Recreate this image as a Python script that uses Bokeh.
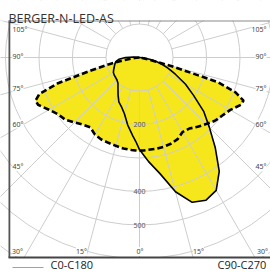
import numpy as np
from bokeh.plotting import figure
from bokeh.models import Range1d
from bokeh.core.properties import value
from bokeh.embed import file_html
from bokeh.resources import INLINE

# ---------------- data ----------------
title_text = "BERGER-N-LED-AS"
series_names = ["C0-C180", "C90-C270"]

gamma = [0, 2.5, 5, 10, 15, 20, 25, 30, 35, 40, 45, 50, 55, 60, 65, 67.5, 70,
         72.5, 75, 77.5, 80, 85, 90, 95, 105, 120, 135, 150, 165, 180]

# C0-C180 plane (solid): C0 drawn right, C180 drawn left
c0 = [275, 292, 312, 352, 415, 460, 470, 458, 415, 352, 295, 250, 197, 158, 118,
      102, 88, 74, 60, 46, 33, 15, 0, 0, 0, 0, 0, 0, 0, 0]
c180 = [275, 251, 234, 204, 174, 157, 146, 128, 112, 100, 95, 93, 92, 90, 85,
        82, 80, 78, 76, 74, 72, 62, 42, 18, 0, 0, 0, 0, 0, 0]
# C90-C270 plane (dashed): C90 drawn left, C270 drawn right
c90 = [278, 278, 277, 276, 273, 271, 270, 266, 255, 262, 274, 289, 296, 312, 334,
       336, 318, 255, 150, 95, 50, 15, 0, 0, 0, 0, 0, 0, 0, 0]
c270 = [278, 278, 277, 277, 276, 274, 269, 257, 259, 270, 281, 294, 302, 313, 334,
        336, 305, 245, 100, 30, 8, 0, 0, 0, 0, 0, 0, 0, 0, 0]

circle_values = [100, 200, 300, 400, 500, 600, 700]
radial_label_values = [200, 400, 500]
radial_labels = ["200", "400", "500"]
angle_values = [0, 15, 30, 45, 60, 75, 90, 105, 120, 135, 150, 165, 180]
side_labels = ["105°", "90°", "75°", "60°", "45°"]
bottom_labels = ["30°", "15°", "0°", "15°", "30°"]

# ---------------- layout ----------------
W, H = 270, 272
S = 0.335          # px per cd
CX, CY = 139, 57   # pole position in px (from left / from top)


def X(px):  # canvas px -> data
    return (px - CX) / S


def Y(py):
    return (CY - py) / S


p = figure(width=W, height=H, output_backend="svg", toolbar_location=None,
           x_range=Range1d(-CX / S, (W - CX) / S),
           y_range=Range1d(-(H - CY) / S, CY / S),
           x_axis_location=None, y_axis_location=None, min_border=0)
p.grid.visible = False
p.outline_line_color = None
p.background_fill_color = "white"
p.border_fill_color = "white"

YELLOW = "#f6e71c"
GRID = "#cdcdcd"


def side_xy(vals, sign):
    g = np.radians(np.array(gamma))
    v = np.array(vals, dtype=float)
    return sign * v * np.sin(g), -v * np.cos(g)


def closed(left_vals, right_vals):
    lx, ly = side_xy(left_vals, -1)
    rx, ry = side_xy(right_vals, 1)
    xs = np.concatenate([lx[::-1], rx])
    ys = np.concatenate([ly[::-1], ry])
    return xs, ys


sx, sy = closed(c180, c0)
dx, dy = closed(c90, c270)

# fills
p.patch(dx, dy, fill_color=YELLOW, line_color=None)
p.patch(sx, sy, fill_color=YELLOW, line_color=None)

# polar grid
p.circle(x=[0] * len(circle_values), y=[0] * len(circle_values), radius=circle_values,
         fill_color=None, line_color=GRID, line_width=1)
x0s, y0s, x1s, y1s = [], [], [], []
for a in angle_values:
    ar = np.radians(a)
    for sgn in (-1, 1):
        x0s.append(sgn * 100 * np.sin(ar)); y0s.append(-100 * np.cos(ar))
        x1s.append(sgn * 900 * np.sin(ar)); y1s.append(-900 * np.cos(ar))
p.segment(x0s, y0s, x1s, y1s, line_color=GRID, line_width=1)

# curves
p.line(sx, sy, line_color="black", line_width=1.6)
p.line(dx, dy, line_color="black", line_width=2.6, line_dash="6 3")

# masks outside the plot box
top_box, bot_box = Y(20), Y(257)
p.quad(left=[X(-5)], right=[X(280)], bottom=[top_box], top=[Y(-5)],
       fill_color="white", line_color=None)
p.quad(left=[X(-5)], right=[X(280)], bottom=[Y(285)], top=[bot_box],
       fill_color="white", line_color=None)

# box border
p.segment([X(8.9)], [Y(20)], [X(8.9)], [Y(257)], line_color="#555555", line_width=1.8)
p.segment([X(8)], [Y(257)], [X(280)], [Y(257)], line_color="#444444", line_width=1.8)
p.segment([X(8)], [Y(20.5)], [X(280)], [Y(20.5)], line_color="#8a8a8a", line_width=1.2)

# radial value labels
p.text(x=[0] * len(radial_label_values), y=[-v for v in radial_label_values],
       text=radial_labels, text_align="center", text_baseline="middle",
       text_font=value("Noto Sans"), text_font_size="7px", text_color="#555555")

# angle labels
side_y = [29, 55.5, 87.5, 123.5, 166]
tick_kw = dict(text_baseline="middle", text_font=value("Noto Sans"),
               text_font_size="7px", text_color="#444444",
               background_fill_color="white")
p.text(x=[X(12)] * 5, y=[Y(v) for v in side_y], text=side_labels,
       text_align="left", **tick_kw)
p.text(x=[X(266)] * 5, y=[Y(v) for v in side_y], text=side_labels,
       text_align="right", **tick_kw)
bottom_x = [17, 81, 139.5, 198, 262]
p.text(x=[X(v) for v in bottom_x], y=[Y(251)] * 5, text=bottom_labels,
       text_align="center", **tick_kw)

# title
p.text(x=[X(8)], y=[Y(17.5)], text=[title_text], text_align="left",
       text_baseline="alphabetic", text_font=value("Open Sans"),
       text_font_size="12.5px", text_color="#333333")

# legend
p.segment([X(12)], [Y(267)], [X(43)], [Y(267)], line_color="#a0a0a0", line_width=1)
p.text(x=[X(50), X(217)], y=[Y(271.5), Y(271.5)], text=series_names, text_align="left",
       text_baseline="bottom", text_font=value("Open Sans"),
       text_font_size="11px", text_color="#222222")

open("out.html", "w").write(file_html(p, INLINE))
